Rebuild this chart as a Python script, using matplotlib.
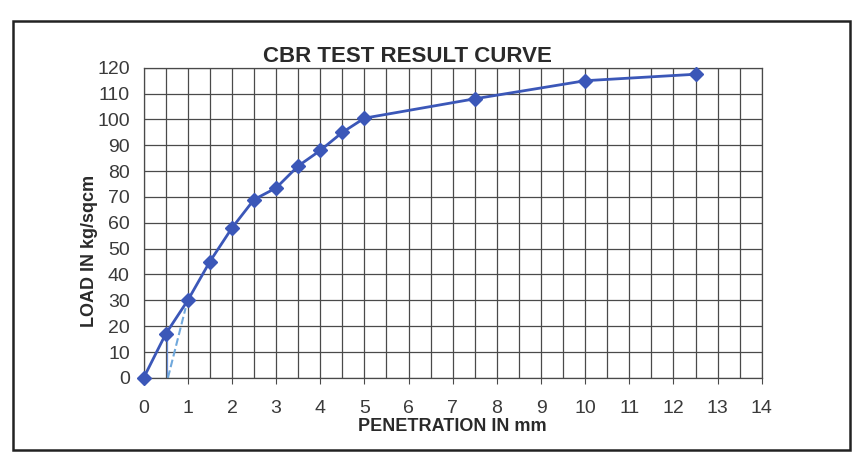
import matplotlib.pyplot as plt
import matplotlib.patches as patches
import numpy as np

plt.rcParams['font.family'] = ['Liberation Sans', 'DejaVu Sans']

# Penetration (mm) and load (kg/sqcm)
penetration = [0, 0.5, 1.0, 1.5, 2.0, 2.5, 3.0, 3.5, 4.0, 4.5, 5.0, 7.5, 10.0, 12.5]
load = [0, 17, 30, 45, 58, 69, 73.5, 82, 88, 95, 100.5, 108, 115, 117.5]

# origin correction construction lines
corr_drop_x = [0.52, 0.52]
corr_drop_y = [15, 0]
corr_tan_x = [0.55, 0.95]
corr_tan_y = [0, 27]

BLUE = '#3B57B8'

fig = plt.figure(figsize=(8.55, 4.58), dpi=100, facecolor='white')
ax = fig.add_axes([0.168, 0.175, 0.723, 0.677])

# outer chart frame
fig.patches.append(patches.Rectangle((0.015, 0.017), 0.979, 0.937, transform=fig.transFigure,
                                     fill=False, edgecolor='#222222', linewidth=1.8))

ax.set_xlim(0, 14)
ax.set_ylim(0, 120)
ax.set_xticks(range(0, 15))
ax.set_xticks(np.arange(0, 14.5, 0.5), minor=True)
ax.set_yticks(range(0, 121, 10))
ax.grid(True, which='both', axis='x', color='#4a4a4a', linewidth=0.9)
ax.grid(True, which='major', axis='y', color='#4a4a4a', linewidth=0.9)
ax.set_axisbelow(True)
for s in ax.spines.values():
    s.set_color('#4a4a4a')
    s.set_linewidth(0.9)

ax.tick_params(axis='x', which='major', length=4, pad=12, labelsize=14, colors='#4a4a4a')
ax.tick_params(axis='x', which='minor', length=0)
ax.tick_params(axis='y', length=0, pad=10, labelsize=14, colors='#4a4a4a')
for lab in ax.get_xticklabels() + ax.get_yticklabels():
    lab.set_color('#3a3a3a')

ax.plot(corr_drop_x, corr_drop_y, color='#6A8FD8', linewidth=0.9, zorder=2)
ax.plot(corr_tan_x, corr_tan_y, color='#6FA8DC', linewidth=1.5, linestyle='--', zorder=2)

ax.plot(penetration, load, color=BLUE, linewidth=2, marker='D', markersize=7.5,
        markerfacecolor=BLUE, markeredgecolor=BLUE, zorder=3, clip_on=False)

ax.set_title('CBR TEST RESULT CURVE', fontsize=16, fontweight='bold', color='#2a2a2a',
             pad=4, x=0.427)
ax.set_xlabel('PENETRATION IN mm', fontsize=13, fontweight='bold', color='#2a2a2a', labelpad=1)
ax.set_ylabel('LOAD IN kg/sqcm', fontsize=13, fontweight='bold', color='#2a2a2a', labelpad=6)
ax.yaxis.set_label_coords(-0.074, 0.41)

fig.savefig('out.png', dpi=100)
